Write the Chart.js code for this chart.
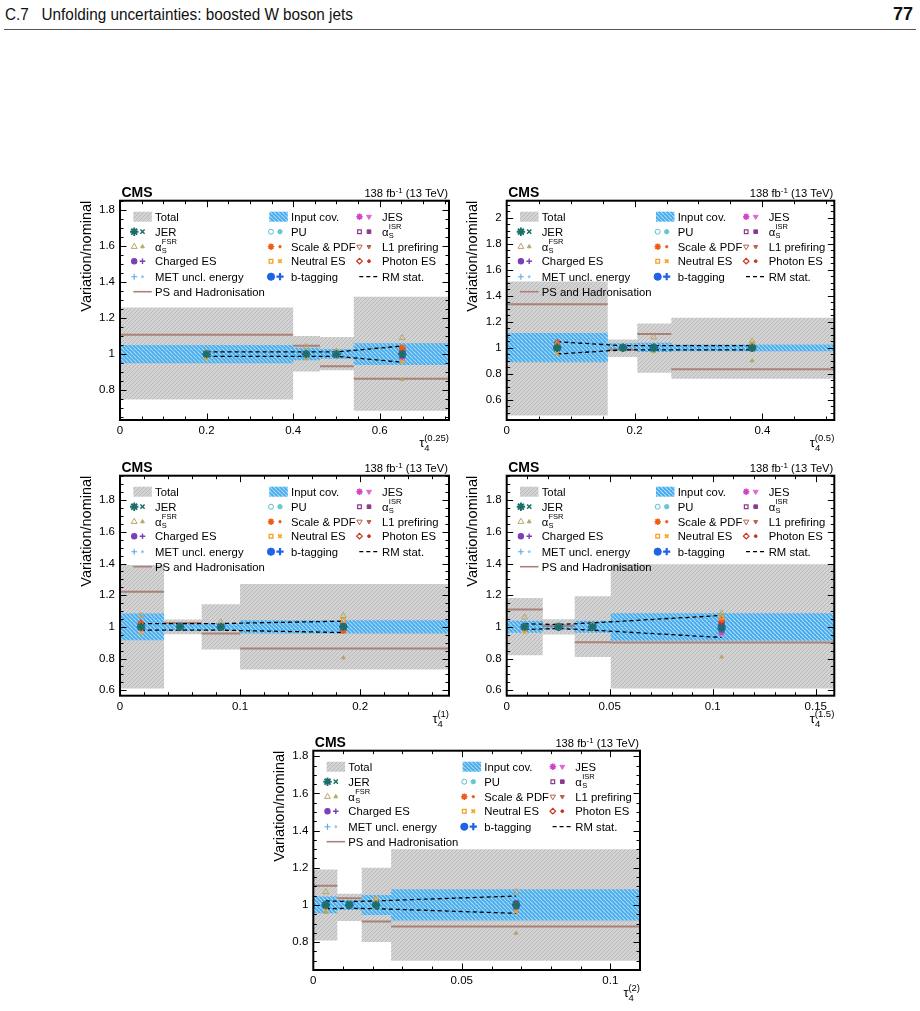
<!DOCTYPE html>
<html><head><meta charset="utf-8">
<script src="https://cdn.jsdelivr.net/npm/chart.js@4.4.1/dist/chart.umd.min.js"></script>
<style>
html,body{margin:0;padding:0;background:#fff;}
body{width:920px;height:1011px;position:relative;overflow:hidden;font-family:"Liberation Sans",Arial,sans-serif;}
#hdr{position:absolute;left:5px;top:5px;font-family:"Liberation Sans",sans-serif;font-size:17px;color:#111;white-space:pre;transform:scaleX(0.9);transform-origin:0 0;}
#pg{position:absolute;right:7px;top:4px;font-family:"Liberation Sans",sans-serif;font-weight:bold;font-size:18px;color:#111;}
#rule{position:absolute;left:4px;top:29px;width:912px;height:1px;background:#555;}
canvas{position:absolute;}
</style></head><body>
<div id="hdr">C.7   Unfolding uncertainties: boosted W boson jets</div>
<div id="pg">77</div>
<div id="rule"></div>
<script>
// ---------------- DATA (one row per panel) ----------------
const PANEL_LABELS = ['(0.25)', '(0.5)', '(1)', '(1.5)', '(2)'];
const X_MAX = [0.76, 0.5125, 0.274, 0.159, 0.110];
const Y_MIN = [0.635, 0.445, 0.565, 0.565, 0.65];
const Y_MAX = [1.85, 2.13, 1.955, 1.955, 1.83];
const X_TICKS = [[0, 0.2, 0.4, 0.6], [0, 0.2, 0.4], [0, 0.1, 0.2], [0, 0.05, 0.1, 0.15], [0, 0.05, 0.1]];
const X_MINOR = [0.05, 0.05, 0.02, 0.01, 0.01];
const Y_TICKS = [
  [0.8, 1, 1.2, 1.4, 1.6, 1.8],
  [0.6, 0.8, 1, 1.2, 1.4, 1.6, 1.8, 2],
  [0.6, 0.8, 1, 1.2, 1.4, 1.6, 1.8],
  [0.6, 0.8, 1, 1.2, 1.4, 1.6, 1.8],
  [0.8, 1, 1.2, 1.4, 1.6, 1.8]
];
const Y_MINOR = [0.05, 0.05, 0.05, 0.05, 0.05];

const BIN_EDGES = [
  [0, 0.4, 0.462, 0.54, 0.76],
  [0, 0.158, 0.2043, 0.2575, 0.5125],
  [0, 0.0367, 0.068, 0.1, 0.274],
  [0, 0.0175, 0.033, 0.0505, 0.159],
  [0, 0.0081, 0.0163, 0.0262, 0.110]
];
const TOTAL_UP = [
  [1.258, 1.100, 1.095, 1.318],
  [1.510, 1.064, 1.187, 1.230],
  [1.390, 1.046, 1.143, 1.270],
  [1.183, 1.048, 1.194, 1.396],
  [1.191, 1.060, 1.200, 1.300]
];
const TOTAL_DN = [
  [0.748, 0.904, 0.910, 0.686],
  [0.480, 0.930, 0.808, 0.762],
  [0.610, 0.954, 0.857, 0.730],
  [0.821, 0.952, 0.810, 0.610],
  [0.809, 0.914, 0.800, 0.700]
];
const INPUT_UP = [
  [1.050, 1.035, 1.028, 1.060],
  [1.113, 1.035, 1.038, 1.026],
  [1.084, 1.025, 1.025, 1.042],
  [1.038, 1.017, 1.038, 1.086],
  [1.045, 1.027, 1.054, 1.084]
];
const INPUT_DN = [
  [0.950, 0.966, 0.975, 0.940],
  [0.888, 0.975, 0.967, 0.974],
  [0.916, 0.975, 0.975, 0.958],
  [0.962, 0.983, 0.963, 0.912],
  [0.955, 0.973, 0.946, 0.916]
];
const PS_HAD = [
  [1.107, 1.047, 0.933, 0.863],
  [1.335, 0.987, 1.105, 0.834],
  [1.222, 1.025, 0.958, 0.863],
  [1.110, 1.005, 0.903, 0.901],
  [1.104, 1.036, 0.911, 0.884]
];
const POINT_X = [
  [0.2, 0.43, 0.5, 0.652],
  [0.079, 0.182, 0.230, 0.384],
  [0.0175, 0.050, 0.084, 0.186],
  [0.0087, 0.0252, 0.0416, 0.1043],
  [0.0042, 0.0121, 0.0211, 0.0683]
];
const RM_UP = [
  [1.012, 1.012, 1.012, 1.045],
  [1.046, 1.016, 1.016, 1.016],
  [1.021, 1.021, 1.021, 1.036],
  [1.019, 1.015, 1.025, 1.072],
  [1.022, 1.018, 1.022, 1.048]
];
const RM_DN = [
  [0.988, 0.988, 0.988, 0.955],
  [0.952, 0.984, 0.984, 0.984],
  [0.979, 0.979, 0.979, 0.964],
  [0.983, 0.990, 0.979, 0.933],
  [0.980, 0.982, 0.980, 0.955]
];
const JER_UP = [[1, 1, 1, 1], [1, 1, 1, 1], [1, 1, 1, 1], [1, 1, 1, 0.99], [1, 1, 1, 1]];
const JER_DN = [[1, 1, 1, 0.99], [0.995, 1, 1, 1], [1, 1, 1, 0.995], [1, 1, 1, 0.985], [1, 1, 1, 0.99]];
const FSR_UP = [
  [1.01, 1.04, 1.015, 1.09],
  [1.03, 1.005, 1.08, 1.05],
  [1.07, 1.005, 1.03, 1.07],
  [1.06, 1.005, 1.01, 1.085],
  [1.07, 1.005, 1.01, 1.07]
];
const FSR_DN = [
  [0.99, 0.975, 0.99, 0.86],
  [0.975, 0.995, 0.97, 0.90],
  [0.99, 0.995, 0.99, 0.805],
  [0.99, 0.995, 0.99, 0.81],
  [0.96, 0.995, 0.99, 0.848]
];
const NES_UP = [[1.0, 1.0, 1.01, 1.0], [1.0, 1.0, 1.0, 1.03], [1.0, 1.0, 1.0, 1.04], [1.0, 1.0, 1.01, 1.06], [1.0, 1.0, 1.03, 1.0]];
const NES_DN = [[0.977, 0.99, 0.995, 0.96], [0.957, 0.995, 0.99, 0.99], [0.962, 0.995, 0.995, 0.99], [0.968, 0.995, 0.99, 0.99], [0.97, 0.995, 1.0, 0.964]];
const SPDF_UP = [[1, 1, 1, 1.035], [1.025, 1, 1, 1], [1.02, 1, 1, 0.975], [1, 1, 1, 1.045], [1, 1, 1, 1]];
const PHO_UP = [[1, 1, 1, 1.03], [1.04, 1, 1, 1], [1.025, 1, 1, 1], [1, 1, 1, 1.03], [1, 1, 1, 1.005]];
const JES_UP = [[1, 1, 1, 0.98], [0.985, 1, 1, 1], [0.99, 1, 1, 0.98], [0.99, 1, 1, 0.965], [0.995, 1, 1, 0.985]];
const ISR_UP = [[1, 1, 1, 1.005], [1, 1, 1, 1], [1, 1, 1, 1], [1, 1, 1, 1.0], [1, 1, 1, 1.005]];
const CES_UP = [[1, 1, 1, 1.01], [1.01, 1, 1, 1], [1, 1, 1, 1.01], [1, 1, 1, 1.02], [1, 1, 1, 1.01]];
const PU_UP = [[1, 1, 1, 0.995], [1, 1, 1, 1], [1, 1, 1, 1], [1, 1, 1, 1], [1, 1, 1, 1]];
const BTAG_UP = [[1, 1, 1, 1], [1, 1, 1, 1], [1, 1, 1, 1], [1, 1, 1, 1], [1, 1, 1, 1]];
const MET_UP = [[1, 1, 1, 1], [1, 1, 1, 1], [1, 1, 1, 1], [1, 1, 1, 1], [1, 1, 1, 1]];
const L1_UP = [[1, 1, 1, 1], [1, 1, 1, 1], [1, 1, 1, 1], [1, 1, 1, 1], [1, 1, 1, 1]];

// ---------------- STYLE / LAYOUT ----------------
const FRAMES = [
  {l: 120, t: 200.7, r: 449, b: 420},
  {l: 506.7, t: 200.7, r: 834.3, b: 420},
  {l: 120, t: 475.7, r: 449, b: 695.7},
  {l: 506.7, t: 475.7, r: 834.3, b: 695.7},
  {l: 313.3, t: 750.7, r: 640, b: 970}
];
const FONT = '"Liberation Sans", Arial, sans-serif';
const STY = {
  JER: [{ps: 'star', r: 4.2, bw: 1.9, c: '#1b6f6b'}, {ps: 'crossRot', r: 3, bw: 1.5, c: '#1b6f6b'}],
  FSR: [{ps: 'triangle', r: 3.4, bw: 1, c: '#b9a46c', open: true}, {ps: 'triangle', r: 2.2, bw: 1, c: '#b9a46c'}],
  CES: [{ps: 'circle', r: 2.6, bw: 1.2, c: '#7b3fb8'}, {ps: 'cross', r: 2.8, bw: 1.4, c: '#7b3fb8'}],
  MET: [{ps: 'cross', r: 3, bw: 1.1, c: '#5ea8e8'}, {ps: 'circle', r: 1, bw: 1, c: '#8cc4f0'}],
  PU: [{ps: 'circle', r: 2.5, bw: 1, c: '#55c0cc', open: true}, {ps: 'circle', r: 2.2, bw: 1, c: '#66c8d2'}],
  SPDF: [{ps: 'star', r: 3.2, bw: 1.6, c: '#ef5b17'}, {ps: 'circle', r: 1.2, bw: 1, c: '#ef5b17'}],
  NES: [{ps: 'rect', r: 2.6, bw: 1.3, c: '#f2a21b', open: true}, {ps: 'crossRot', r: 2.6, bw: 1.5, c: '#f2a21b'}],
  BTAG: [{ps: 'circle', r: 3.6, bw: 1, c: '#1f63e6'}, {ps: 'cross', r: 3.6, bw: 2.2, c: '#1f63e6'}],
  JES: [{ps: 'star', r: 3.2, bw: 1.6, c: '#d442c6'}, {ps: 'triangle', r: 2.8, bw: 1, c: '#dd6ad4', rot: 180}],
  ISR: [{ps: 'rect', r: 2.6, bw: 1.2, c: '#8a3a8c', open: true}, {ps: 'rect', r: 2.6, bw: 1, c: '#8a3a8c'}],
  L1: [{ps: 'triangle', r: 3.1, bw: 1, c: '#b5644c', open: true, rot: 180}, {ps: 'triangle', r: 2.3, bw: 1, c: '#b5644c', rot: 180}],
  PHO: [{ps: 'rectRot', r: 2.8, bw: 1.2, c: '#c8341c', open: true}, {ps: 'circle', r: 1.4, bw: 1, c: '#c8341c'}]
};
const PS_COLOR = '#a88276';

function hatch(bg, fg, size, lw, dir) {
  const c = document.createElement('canvas');
  c.width = c.height = size;
  const g = c.getContext('2d');
  g.fillStyle = bg; g.fillRect(0, 0, size, size);
  g.strokeStyle = fg; g.lineWidth = lw;
  g.beginPath();
  if (dir > 0) {
    g.moveTo(-size, size * 2); g.lineTo(size * 2, -size);
    g.moveTo(-size * 2, size); g.lineTo(size, -size * 2);
    g.moveTo(0, size * 3); g.lineTo(size * 3, 0);
  } else {
    g.moveTo(-size, -size); g.lineTo(size * 2, size * 2);
    g.moveTo(-size * 2, 0); g.lineTo(size, size * 3);
    g.moveTo(0, -size * 2); g.lineTo(size * 3, size);
  }
  g.stroke();
  return g.createPattern(c, 'repeat');
}
const GRAY_PAT = hatch('#d3d3d3', '#b9b9b9', 4, 1, 1);
const BLUE_PAT = hatch('#47abec', '#aadcf8', 4, 1.2, -1);

function stepPts(edges, vals) {
  const pts = [];
  vals.forEach((v, k) => { pts.push({x: edges[k], y: v}); pts.push({x: edges[k + 1], y: v}); });
  return pts;
}
function segPts(edges, vals) {
  const pts = [];
  vals.forEach((v, k) => { pts.push({x: edges[k], y: v}); pts.push({x: edges[k + 1], y: v}); pts.push({x: edges[k + 1], y: null}); });
  return pts;
}
function markerSet(xs, ys, st, order) {
  return {
    type: 'line', showLine: false, order: order,
    data: xs.map((x, k) => ({x: x, y: ys[k]})),
    pointStyle: st.ps, pointRadius: st.r, pointBorderWidth: st.bw,
    pointBorderColor: st.c, pointBackgroundColor: st.open ? 'rgba(255,255,255,0)' : st.c,
    pointRotation: st.rot || 0, borderColor: st.c, backgroundColor: st.c,
    pointHoverRadius: st.r
  };
}

const LEG = [
  {col: 0, row: 0, label: 'Total', sym: 'box', pat: 'gray'},
  {col: 0, row: 1, label: 'JER', sys: 'JER'},
  {col: 0, row: 2, label: '\u03b1', sub: 'S', sup: 'FSR', sys: 'FSR'},
  {col: 0, row: 3, label: 'Charged ES', sys: 'CES'},
  {col: 0, row: 4, label: 'MET uncl. energy', sys: 'MET'},
  {col: 0, row: 5, label: 'PS and Hadronisation', sym: 'line'},
  {col: 1, row: 0, label: 'Input cov.', sym: 'box', pat: 'blue'},
  {col: 1, row: 1, label: 'PU', sys: 'PU'},
  {col: 1, row: 2, label: 'Scale & PDF', sys: 'SPDF'},
  {col: 1, row: 3, label: 'Neutral ES', sys: 'NES'},
  {col: 1, row: 4, label: 'b-tagging', sys: 'BTAG'},
  {col: 2, row: 0, label: 'JES', sys: 'JES'},
  {col: 2, row: 1, label: '\u03b1', sub: 'S', sup: 'ISR', sys: 'ISR'},
  {col: 2, row: 2, label: 'L1 prefiring', sys: 'L1'},
  {col: 2, row: 3, label: 'Photon ES', sys: 'PHO'},
  {col: 2, row: 4, label: 'RM stat.', sym: 'dash'}
];
const COL_SYM = [13.3, 149.3, 237.3];
const COL_MK = [[14.2, 22.5], [151, 160], [239.5, 249]];
const COL_TXT = [35, 171, 262];
const ROW_Y = [16, 31, 46, 60.5, 76, 91];

function drawMarker(ctx, st, x, y) {
  ctx.save();
  ctx.strokeStyle = st.c;
  ctx.fillStyle = st.open ? 'rgba(255,255,255,0)' : st.c;
  ctx.lineWidth = st.bw;
  if (Chart.helpers && Chart.helpers.drawPoint) {
    Chart.helpers.drawPoint(ctx, {pointStyle: st.ps, radius: st.r, rotation: st.rot || 0, borderWidth: st.bw}, x, y);
  } else {
    ctx.beginPath(); ctx.arc(x, y, st.r, 0, Math.PI * 2); ctx.fill(); ctx.stroke();
  }
  ctx.restore();
}

function drawLegend(ctx, a) {
  const fs = 11.3;
  LEG.forEach(e => {
    const y = a.top + ROW_Y[e.row];
    const sx = a.left + COL_SYM[e.col];
    if (e.sym === 'box') {
      ctx.fillStyle = e.pat === 'gray' ? GRAY_PAT : BLUE_PAT;
      ctx.fillRect(sx, y - 5, 18.5, 10);
    } else if (e.sym === 'line') {
      ctx.strokeStyle = PS_COLOR; ctx.lineWidth = 1.6; ctx.setLineDash([]);
      ctx.beginPath(); ctx.moveTo(sx, y); ctx.lineTo(sx + 18.5, y); ctx.stroke();
    } else if (e.sym === 'dash') {
      ctx.strokeStyle = '#000'; ctx.lineWidth = 1.2; ctx.setLineDash([4, 3]);
      ctx.beginPath(); ctx.moveTo(sx + 2, y); ctx.lineTo(sx + 20, y); ctx.stroke();
      ctx.setLineDash([]);
    } else {
      const s = STY[e.sys];
      drawMarker(ctx, s[0], a.left + COL_MK[e.col][0], y);
      drawMarker(ctx, s[1], a.left + COL_MK[e.col][1], y);
    }
    ctx.fillStyle = '#000';
    ctx.textAlign = 'left'; ctx.textBaseline = 'alphabetic';
    ctx.font = fs + 'px ' + FONT;
    const tx = a.left + COL_TXT[e.col];
    ctx.fillText(e.label, tx, y + 4);
    if (e.sub) {
      const w = ctx.measureText(e.label).width;
      ctx.font = '7.5px ' + FONT;
      ctx.fillText(e.sub, tx + w + 0.3, y + 6.5);
      ctx.fillText(e.sup, tx + w + 0.3, y - 2.5);
    }
  });
}

function makeDeco(i) {
  return {
    id: 'deco' + i,
    afterDatasetsDraw(chart) {
      const ctx = chart.ctx, a = chart.chartArea, xs = chart.scales.x, ys = chart.scales.y;
      ctx.save();
      drawLegend(ctx, a);
      // ticks (inward, all four sides)
      ctx.strokeStyle = '#000'; ctx.lineWidth = 1; ctx.setLineDash([]);
      ctx.beginPath();
      const xmaj = X_TICKS[i][1] - X_TICKS[i][0];
      const nx = Math.floor(X_MAX[i] / X_MINOR[i] + 1e-6);
      for (let k = 1; k <= nx; k++) {
        const v = k * X_MINOR[i];
        const rr = v / xmaj;
        const L = Math.abs(rr - Math.round(rr)) < 1e-6 ? 6.5 : 3.5;
        const px = Math.round(xs.getPixelForValue(v)) + 0.5;
        ctx.moveTo(px, a.bottom); ctx.lineTo(px, a.bottom - L);
        ctx.moveTo(px, a.top); ctx.lineTo(px, a.top + L);
      }
      const ymaj = 0.2;
      const k0 = Math.ceil(Y_MIN[i] / Y_MINOR[i] - 1e-6), k1 = Math.floor(Y_MAX[i] / Y_MINOR[i] + 1e-6);
      for (let k = k0; k <= k1; k++) {
        const v = k * Y_MINOR[i];
        const rr = v / ymaj;
        const L = Math.abs(rr - Math.round(rr)) < 1e-6 ? 6.5 : 3.5;
        const py = Math.round(ys.getPixelForValue(v)) + 0.5;
        ctx.moveTo(a.left, py); ctx.lineTo(a.left + L, py);
        ctx.moveTo(a.right, py); ctx.lineTo(a.right - L, py);
      }
      ctx.stroke();
      // frame
      ctx.lineWidth = 2;
      ctx.strokeRect(a.left, a.top, a.right - a.left, a.bottom - a.top);
      // CMS
      ctx.fillStyle = '#000'; ctx.textBaseline = 'alphabetic';
      ctx.font = 'bold 14px ' + FONT; ctx.textAlign = 'left';
      ctx.fillText('CMS', a.left + 1.5, a.top - 3.4);
      // lumi
      const mf = '11.2px ' + FONT, sf = '8px ' + FONT;
      ctx.font = mf; const w1 = ctx.measureText('138 fb').width; const w3 = ctx.measureText(' (13 TeV)').width;
      ctx.font = sf; const w2 = ctx.measureText('-1').width;
      const x0 = a.right - 1 - w1 - w2 - w3;
      ctx.font = mf; ctx.fillText('138 fb', x0, a.top - 3.5);
      ctx.font = sf; ctx.fillText('-1', x0 + w1, a.top - 7.8);
      ctx.font = mf; ctx.fillText(' (13 TeV)', x0 + w1 + w2, a.top - 3.5);
      // y title
      ctx.save();
      ctx.translate(a.left - 33.3, a.top);
      ctx.rotate(-Math.PI / 2);
      ctx.font = '14.5px ' + FONT; ctx.textAlign = 'right'; ctx.textBaseline = 'middle';
      ctx.fillText('Variation/nominal', 0, 0);
      ctx.restore();
      // x title
      ctx.textAlign = 'left'; ctx.textBaseline = 'alphabetic';
      ctx.font = '9.5px ' + FONT; const wsup = ctx.measureText(PANEL_LABELS[i]).width;
      const supX = a.right - wsup;
      ctx.fillText(PANEL_LABELS[i], supX, a.bottom + 21);
      ctx.font = '13px ' + FONT; const wt = ctx.measureText('\u03c4').width;
      const tX = supX - 5;
      ctx.fillText('\u03c4', tX, a.bottom + 27);
      ctx.font = '9.5px ' + FONT;
      ctx.fillText('4', tX + wt, a.bottom + 31);
      ctx.restore();
    }
  };
}

function buildPanel(i) {
  const F = FRAMES[i];
  const cl = Math.round(F.l) - 55, ct = Math.floor(F.t) - 25;
  const W = Math.round(F.r) - cl + 10, H = Math.ceil(F.b) - ct + 37;
  const cv = document.createElement('canvas');
  cv.width = W; cv.height = H;
  cv.style.left = cl + 'px'; cv.style.top = ct + 'px';
  cv.style.width = W + 'px'; cv.style.height = H + 'px';
  document.body.appendChild(cv);
  const padTop = F.t - ct, padRight = W - F.r + cl, yW = F.l - cl, xH = H - (F.b - ct);
  const E = BIN_EDGES[i], PX = POINT_X[i];
  const ds = [];
  const sysList = [
    ['JER', JER_UP, 0, 0], ['JER', JER_DN, 1, 1],
    ['FSR', FSR_UP, 0, 3], ['FSR', FSR_DN, 1, 3],
    ['NES', NES_UP, 0, 4], ['NES', NES_DN, 1, 4],
    ['SPDF', SPDF_UP, 0, 5], ['PHO', PHO_UP, 0, 5], ['JES', JES_UP, 0, 5],
    ['ISR', ISR_UP, 0, 6], ['CES', CES_UP, 0, 6], ['PU', PU_UP, 0, 6],
    ['BTAG', BTAG_UP, 0, 7], ['MET', MET_UP, 0, 7], ['L1', L1_UP, 0, 7]
  ];
  sysList.forEach(s => ds.push(markerSet(PX, s[1][i], STY[s[0]][s[2]], s[3])));
  [RM_UP, RM_DN].forEach(arr => ds.push({
    type: 'line', order: 20, data: PX.map((x, k) => ({x: x, y: arr[i][k]})),
    borderColor: '#000', borderWidth: 1.3, borderDash: [4, 3], pointRadius: 0, fill: false, tension: 0
  }));
  ds.push({type: 'line', order: 30, data: segPts(E, PS_HAD[i]), borderColor: PS_COLOR, borderWidth: 2,
    pointRadius: 0, fill: false, spanGaps: false, tension: 0});
  ds.push({type: 'line', order: 40, data: stepPts(E, INPUT_UP[i]), borderColor: 'rgba(0,0,0,0)', borderWidth: 0,
    pointRadius: 0, fill: '+1', backgroundColor: BLUE_PAT, tension: 0});
  ds.push({type: 'line', order: 40, data: stepPts(E, INPUT_DN[i]), borderColor: 'rgba(0,0,0,0)', borderWidth: 0,
    pointRadius: 0, fill: false, tension: 0});
  ds.push({type: 'line', order: 50, data: stepPts(E, TOTAL_UP[i]), borderColor: 'rgba(0,0,0,0)', borderWidth: 0,
    pointRadius: 0, fill: '+1', backgroundColor: GRAY_PAT, tension: 0});
  ds.push({type: 'line', order: 50, data: stepPts(E, TOTAL_DN[i]), borderColor: 'rgba(0,0,0,0)', borderWidth: 0,
    pointRadius: 0, fill: false, tension: 0});

  const tickFont = {family: FONT, size: 11.5};
  new Chart(cv, {
    type: 'line',
    data: {datasets: ds},
    options: {
      responsive: false, animation: false, devicePixelRatio: 1,
      events: [],
      layout: {padding: {top: padTop, right: padRight, left: 0, bottom: 0}},
      plugins: {legend: {display: false}, tooltip: {enabled: false}, title: {display: false}},
      scales: {
        x: {
          type: 'linear', min: 0, max: X_MAX[i],
          afterFit(s) { s.height = xH; },
          afterBuildTicks(s) { s.ticks = X_TICKS[i].map(v => ({value: v})); },
          grid: {display: false, drawTicks: false}, border: {display: false},
          ticks: {font: tickFont, color: '#000', padding: 4, maxRotation: 0, autoSkip: false,
            callback: v => String(+v.toFixed(3))}
        },
        y: {
          type: 'linear', min: Y_MIN[i], max: Y_MAX[i],
          afterFit(s) { s.width = yW; },
          afterBuildTicks(s) { s.ticks = Y_TICKS[i].map(v => ({value: v})); },
          grid: {display: false, drawTicks: false}, border: {display: false},
          ticks: {font: tickFont, color: '#000', padding: 5, autoSkip: false,
            callback: v => String(+v.toFixed(3))}
        }
      }
    },
    plugins: [makeDeco(i)]
  });
}
for (let i = 0; i < 5; i++) buildPanel(i);
</script>
</body></html>
